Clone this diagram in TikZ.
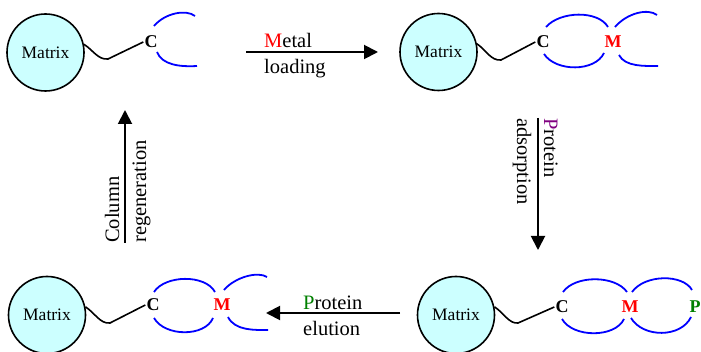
\documentclass[tikz,border=0pt]{standalone}
\usepackage{fontspec}
\setmainfont{Liberation Serif}
\usepackage{tikz}
\usetikzlibrary{arrows.meta}

\definecolor{matrixfill}{RGB}{204,255,255}
\definecolor{armblue}{RGB}{0,0,255}
\definecolor{metalred}{RGB}{255,0,0}
\definecolor{protpurple}{RGB}{128,0,128}
\definecolor{protgreen}{RGB}{0,128,0}

\tikzset{
    matrixball/.style={circle, draw, line width=1.6pt, fill=matrixfill,
        minimum size=77pt, inner sep=0pt, font=\fontsize{17.5}{20}\selectfont},
    atom/.style={inner sep=1pt, font=\fontsize{18}{20}\selectfont\bfseries},
    linker/.style={line width=1.6pt},
    arm/.style={armblue, line width=1.8pt},
    steparrow/.style={line width=1.9pt, -{Triangle[length=14pt,width=14pt]}},
    label/.style={inner sep=0pt, anchor=base west, font=\fontsize{20.5}{24}\selectfont}
}

\begin{document}
\begin{tikzpicture}[x=1pt, y=-1pt]
    \useasboundingbox (0,0) rectangle (701,352);

    % top left: bare chelator
    \node[matrixball] (m1) at (45.5,52.5) {Matrix};
    \node[atom] (c1) at (151,42) {C};
    \draw[linker] (m1.12) .. controls (93,50) and (98,60) .. (108,59) -- (c1.west);
    \draw[arm] (154,26) .. controls (165,13) and (186,9) .. (195,16);
    \draw[arm] (157,52) .. controls (162,65) and (180,67) .. (197,66);

    % top right: metal loaded
    \node[matrixball] (m2) at (438.5,52) {Matrix};
    \node[atom] (c2) at (543,42) {C};
    \node[atom, metalred] (mt2) at (613,42) {M};
    \draw[linker] (m2.12) .. controls (486,50) and (491,61) .. (501,60) -- (c2.west);
    \draw[arm] (546,27) .. controls (560,11) and (598,10) .. (608,27);
    \draw[arm] (544,54) .. controls (556,72) and (595,72) .. (604,53);
    \draw[arm] (615,27) .. controls (627,13) and (648,8) .. (657,15);
    \draw[arm] (619,55) .. controls (625,67) and (645,66) .. (658,66);

    % bottom right: protein bound
    \node[matrixball] (m3) at (456,315) {Matrix};
    \node[atom] (c3) at (562,307) {C};
    \node[atom, metalred] (mt3) at (630,307) {M};
    \node[atom, protgreen] (p3) at (695,307) {P};
    \draw[linker] (m3.12) .. controls (504,313) and (509,324) .. (518,323) -- (c3.west);
    \draw[arm] (563,292) .. controls (575,275) and (615,275) .. (627,292);
    \draw[arm] (562,319) .. controls (573,338) and (615,338) .. (624,319);
    \draw[arm] (632,292) .. controls (645,274) and (683,274) .. (692,290);
    \draw[arm] (631,318) .. controls (643,338) and (681,338) .. (691,317);

    % bottom left: protein eluted
    \node[matrixball] (m4) at (47,315) {Matrix};
    \node[atom] (c4) at (153,305) {C};
    \node[atom, metalred] (mt4) at (222,305) {M};
    \draw[linker] (m4.12) .. controls (95,313) and (100,324) .. (110,323) -- (c4.west);
    \draw[arm] (154,292) .. controls (165,275) and (205,274) .. (215,292);
    \draw[arm] (154,318) .. controls (165,337) and (205,337) .. (213,318);
    \draw[arm] (224,290) .. controls (235,277) and (258,271) .. (267,277);
    \draw[arm] (228,317) .. controls (235,331) and (255,330) .. (268,330);

    % step arrows
    \coordinate (load1) at (246,52);
    \coordinate (load2) at (378,52);
    \coordinate (ads1) at (538,118);
    \coordinate (ads2) at (538,250);
    \coordinate (elu1) at (400,313);
    \coordinate (elu2) at (266,313);
    \coordinate (reg1) at (125,243);
    \coordinate (reg2) at (125,110);
    \draw[steparrow] (load1) -- (load2);
    \draw[steparrow] (ads1) -- (ads2);
    \draw[steparrow] (elu1) -- (elu2);
    \draw[steparrow] (reg1) -- (reg2);

    % step labels
    \node[label] (metal) at (264,47.5) {\textcolor{metalred}{M}etal};
    \node[label] (loading) at (264,74) {loading};
    \node[label, rotate=-90] (prot1) at (544,118) {\textcolor{protpurple}{P}rotein};
    \node[label, rotate=-90] (adsorb) at (517,118) {adsorption};
    \node[label] (prot2) at (303,310) {\textcolor{protgreen}{P}rotein};
    \node[label] (elution) at (303,335) {elution};
    \node[label, rotate=90] (column) at (119,243) {Column};
    \node[label, rotate=90] (regen) at (146,243) {regeneration};
\end{tikzpicture}
\end{document}
